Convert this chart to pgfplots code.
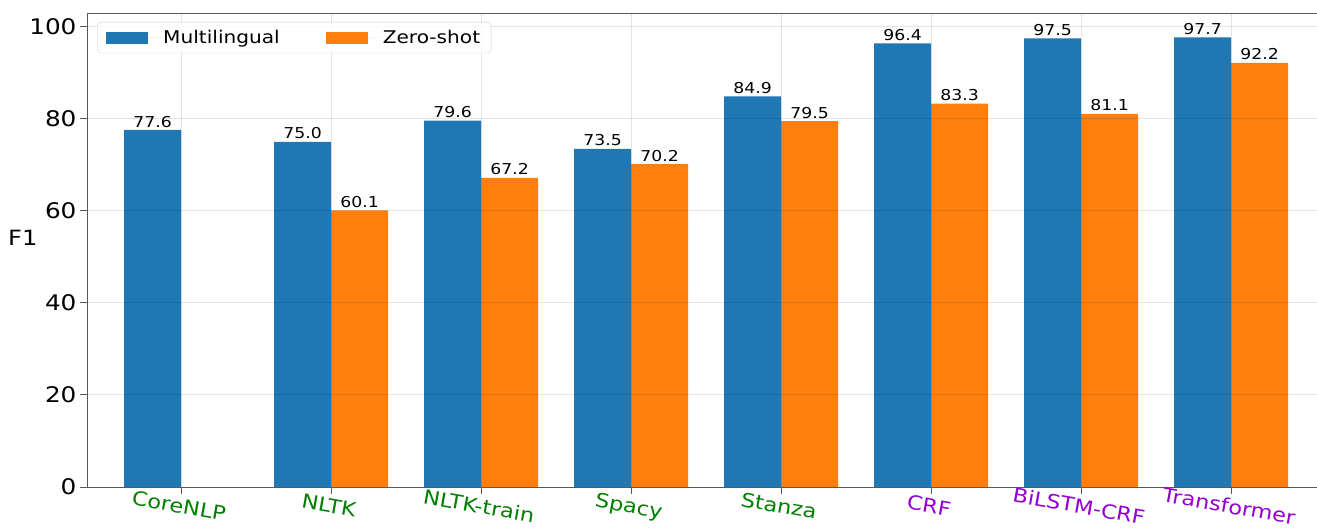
\documentclass[border=0pt]{standalone}
\usepackage{pgfplots}
\pgfplotsset{compat=1.18}
\usetikzlibrary{calc}
\usepackage{fontspec}
\setmainfont{DejaVu Sans}[FakeStretch=1.15]
\definecolor{mblue}{HTML}{1F77B4}
\definecolor{morange}{HTML}{FF7F0E}
\definecolor{tgreen}{HTML}{008000}
\definecolor{tpurple}{HTML}{9400D3}
\begin{document}
\begin{tikzpicture}
\begin{axis}[name=ax, scale only axis, width=1230pt, height=473pt,
  xmin=-0.627, xmax=7.573, ymin=0, ymax=102.8,
  axis x line=box, axis y line=left,
  axis line style={-, black!65, line width=1pt},
  xtick={0,...,7},
  xticklabels={\textcolor{tgreen}{CoreNLP},\textcolor{tgreen}{NLTK},\textcolor{tgreen}{NLTK-train},\textcolor{tgreen}{Spacy},\textcolor{tgreen}{Stanza},\textcolor{tpurple}{CRF},\textcolor{tpurple}{BiLSTM-CRF},\textcolor{tpurple}{Transformer}},
  ytick={0,20,...,100},
  xtick pos=bottom, ytick pos=left,
  tick align=outside, major tick length=7pt,
  tick style={black!65, line width=1pt},
  xticklabel style={rotate=-10, anchor=north, font=\fontsize{19.5}{20}\selectfont, yshift=-1pt},
  yticklabel style={font=\fontsize{21.5}{22}\selectfont},
  /pgf/number format/assume math mode=true,
  grid=major, major grid style={black, opacity=0.1, line width=1pt},
  axis on top,
  ybar=0pt, bar width=0.38,
  clip=false,
  nodes near coords,
  nodes near coords style={font=\fontsize{15}{15}\selectfont, /pgf/number format/.cd, fixed, fixed zerofill, precision=1, /tikz/.cd, inner sep=2.5pt, anchor=south},
  legend image code/.code={\fill[#1, sharp corners, fill opacity=1] (0pt,-6pt) rectangle (42pt,6pt); \path (0pt,0pt) -- (55pt,0pt);},
  legend style={at={(0,1)}, anchor=north west, xshift=10pt, yshift=-8pt,
    draw=black!20, rounded corners=4pt, fill=white, fill opacity=0.8, text opacity=1,
    font=\fontsize{17.5}{18}\selectfont, legend columns=2,
    /tikz/every even column/.append style={column sep=44pt},
    inner xsep=9pt, inner ysep=6pt},
]
\addplot[fill=mblue, draw=none, bar shift=-0.19] coordinates {(0,77.6) (1,75.0) (2,79.6) (3,73.5) (4,84.9) (5,96.4) (6,97.5) (7,97.7)};
\addplot[fill=morange, draw=none, bar shift=0.19] coordinates {(1,60.1) (2,67.2) (3,70.2) (4,79.5) (5,83.3) (6,81.1) (7,92.2)};
\legend{Multilingual, Zero-shot}
\end{axis}
\node[anchor=east, font=\fontsize{21}{21}\selectfont] at ([xshift=-46pt]$(ax.south west)!0.526!(ax.north west)$) {F1};
\pgfresetboundingbox
\path ([shift={(-87pt,-42pt)}]ax.south west) rectangle ([shift={(0pt,14pt)}]ax.north east);
\end{tikzpicture}
\end{document}
